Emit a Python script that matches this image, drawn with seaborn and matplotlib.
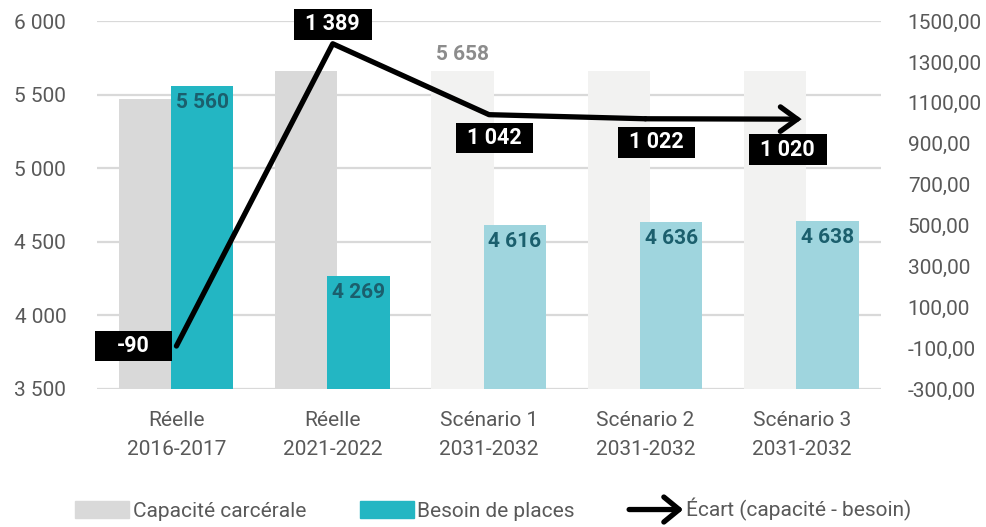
import numpy as np
import seaborn as sns
import matplotlib.pyplot as plt
from matplotlib.patches import Patch, FancyArrowPatch
from matplotlib.lines import Line2D
from matplotlib.path import Path
from matplotlib.legend_handler import HandlerBase
from matplotlib.ticker import FuncFormatter

categories = ["Réelle\n2016-2017", "Réelle\n2021-2022", "Scénario 1\n2031-2032",
              "Scénario 2\n2031-2032", "Scénario 3\n2031-2032"]
capacite = [5470, 5658, 5658, 5658, 5658]
besoin = [5560, 4269, 4616, 4636, 4638]
ecart = [-90, 1389, 1042, 1022, 1020]

cap_colors = ["#D9D9D9", "#D9D9D9", "#F2F2F1", "#F2F2F1", "#F2F2F1"]
bes_colors = ["#23B6C3", "#23B6C3", "#9FD5DE", "#9FD5DE", "#9FD5DE"]

sns.set_theme(style="white")
plt.rcParams["font.family"] = ["Roboto", "DejaVu Sans"]

fig = plt.figure(figsize=(9.87, 5.27), dpi=100)
ax = fig.add_axes([0.098, 0.262, 0.795, 0.698])

pos = np.arange(len(categories))

# Capacité (behind) and besoin bars, slightly overlapping
sns.barplot(x=pos - 0.17, y=capacite, hue=categories, palette=dict(zip(categories, cap_colors)),
            native_scale=True, width=0.4, saturation=1, errorbar=None, legend=False, ax=ax,
            zorder=2, linewidth=0)
sns.barplot(x=pos + 0.165, y=besoin, hue=categories, palette=dict(zip(categories, bes_colors)),
            native_scale=True, width=0.4, saturation=1, errorbar=None, legend=False, ax=ax,
            zorder=3, linewidth=0)

ax.set_ylim(3500, 6000)
ax.set_yticks(range(3500, 6001, 500))
ax.yaxis.set_major_formatter(FuncFormatter(lambda v, p: f"{v:,.0f}".replace(",", " ")))
ax.set_xlim(-0.51, 4.51)
ax.set_xticks(pos)
ax.set_xticklabels(categories, linespacing=1.65)
ax.grid(axis="y", color="#D9D9D9", lw=1.6)
ax.set_axisbelow(True)
for s in ax.spines.values():
    s.set_visible(False)
ax.tick_params(axis="y", length=0, pad=22, labelsize=15, labelcolor="#595959")
ax.tick_params(axis="x", length=0, pad=16, labelsize=15, labelcolor="#595959")
ax.set_xlabel("")
ax.set_ylabel("")

# besoin labels inside the bar tops
for i, v in enumerate(besoin):
    ax.annotate(f"{v:,}".replace(",", " "), (i + 0.165, v), xytext=(0, -5), textcoords="offset points",
                ha="center", va="top", fontsize=15, fontweight="bold", color="#1B5F6D", zorder=5)
# capacité label (only shown once)
ax.annotate(f"{capacite[2]:,}".replace(",", " "), (2 - 0.17, capacite[2]), xytext=(0, 5),
            textcoords="offset points", ha="center", va="bottom", fontsize=15,
            fontweight="bold", color="#8C8C8C", zorder=5)

# Écart on secondary axis
ax2 = ax.twinx()
ax2.set_position(ax.get_position())
sns.lineplot(x=pos[:-1], y=ecart[:-1], ax=ax2, color="black", lw=3.8,
             solid_capstyle="round", solid_joinstyle="round")
ax2.annotate("", xy=(pos[-1], ecart[-1]), xytext=(pos[-2], ecart[-2]),
             arrowprops=dict(arrowstyle="->,head_length=0.55,head_width=0.4", lw=3.8,
                             color="black", mutation_scale=22, shrinkA=0, shrinkB=0,
                             capstyle="round", joinstyle="miter"))
ax2.set_ylim(-300, 1500)
ax2.set_yticks(range(-300, 1501, 200))
ax2.yaxis.set_major_formatter(FuncFormatter(lambda v, p: f"{v:.2f}".replace(".", ",")))
ax2.tick_params(axis="y", length=0, pad=19, labelsize=15, labelcolor="#595959")
ax2.set_xlim(-0.51, 4.51)
ax2.set_ylabel("")
for s in ax2.spines.values():
    s.set_visible(False)


def fixed_box(x0, y0, width, height, mutation_size):
    # black label box with a fixed width, centred on the text
    w = max(width, 3.6 * mutation_size)
    cx = x0 + width / 2
    py = 0.2 * mutation_size
    xa, xb = cx - w / 2, cx + w / 2
    ya, yb = y0 - py, y0 + height + py
    return Path([(xa, ya), (xb, ya), (xb, yb), (xa, yb), (xa, ya)], closed=True)


label_place = [((-19, 0), "right", "center"), ((0, 6), "center", "bottom"),
               ((4, -9), "center", "top"), ((8, -9), "center", "top"), ((-10, -14), "center", "top")]
for i, v in enumerate(ecart):
    off, ha, va = label_place[i]
    ax2.annotate(f"{v:,}".replace(",", " "), (pos[i], v), xytext=off, textcoords="offset points",
                 ha=ha, va=va, fontsize=15.5, fontweight="bold", color="white", zorder=6,
                 bbox=dict(boxstyle=fixed_box, fc="black", ec="none"))


class ArrowHandler(HandlerBase):
    def create_artists(self, legend, orig_handle, xdescent, ydescent, width, height, fontsize, trans):
        y = height / 2 - ydescent
        a = FancyArrowPatch((-xdescent, y), (-xdescent + width, y),
                            arrowstyle="->,head_length=0.55,head_width=0.45", mutation_scale=20,
                            lw=3.8, color="black", transform=trans, shrinkA=0, shrinkB=0)
        return [a]


handles = [Patch(color="#D9D9D9"), Patch(color="#23B6C3"), Line2D([], [], color="black")]
labels = ["Capacité carcérale", "Besoin de places", "Écart (capacité - besoin)"]
fig.legend(handles, labels, loc="lower center", bbox_to_anchor=(0.5, -0.025), ncol=3,
           frameon=False, fontsize=15, handlelength=2.6, handleheight=0.85, handletextpad=0.15,
           columnspacing=2.6, labelcolor="#595959",
           handler_map={Line2D: ArrowHandler()})

fig.savefig("out.png", dpi=100)
